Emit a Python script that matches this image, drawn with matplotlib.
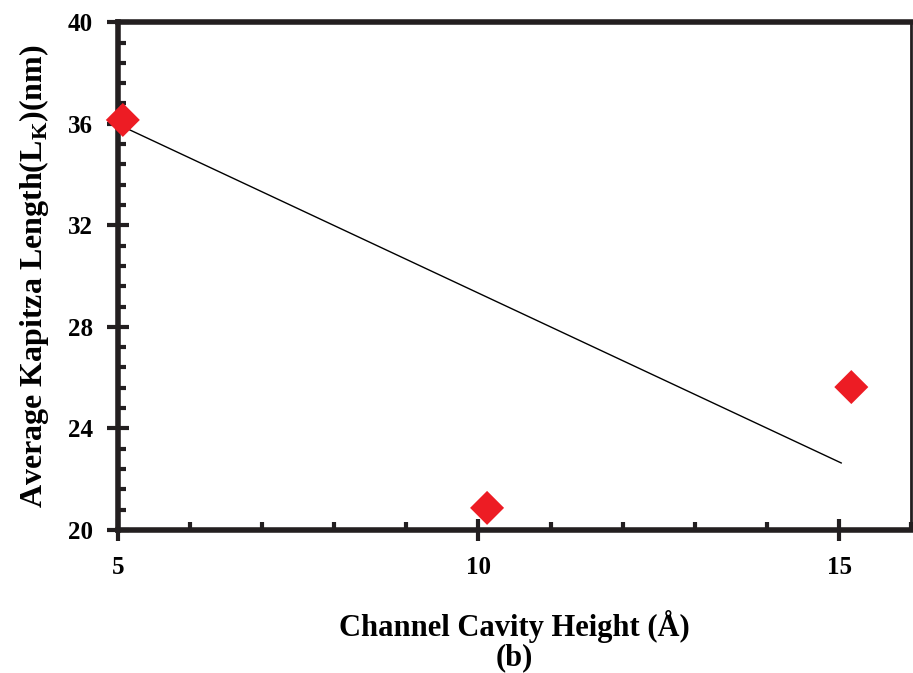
import matplotlib
matplotlib.use("Agg")
import matplotlib.pyplot as plt
from matplotlib.ticker import MultipleLocator

# Kapitza length vs. channel cavity height
cavity_height = [5.07, 10.12, 15.17]
kapitza_length = [36.15, 20.87, 25.63]

# straight trend line drawn across the data range
trend_x = [5.0, 15.03]
trend_y = [35.98, 22.64]

plt.rcParams['font.family'] = ['Liberation Serif', 'DejaVu Serif']
plt.rcParams['font.weight'] = 'bold'

fig = plt.figure(figsize=(9.13, 6.73), dpi=100)
ax = fig.add_axes([0.129, 0.2125, 0.869, 0.7545])

ax.plot(trend_x, trend_y, color='black', lw=1.0, zorder=2)
ax.scatter(cavity_height, kapitza_length, marker='D', s=300, color='#ed1c24',
           edgecolors='none', zorder=3, clip_on=False)

ax.set_xlim(5, 16)
ax.set_ylim(20, 40)
ax.xaxis.set_major_locator(MultipleLocator(5))
ax.xaxis.set_minor_locator(MultipleLocator(1))
ax.yaxis.set_major_locator(MultipleLocator(4))
ax.yaxis.set_minor_locator(MultipleLocator(0.8))

ax.tick_params(which='major', direction='inout', length=16, width=3,
               labelsize=18, color='#231f20')
ax.tick_params(axis='x', which='major', pad=11)
ax.tick_params(axis='y', which='major', pad=10)
ax.tick_params(which='minor', direction='in', length=6, width=3,
               color='#231f20')
ax.tick_params(axis='y', which='both', right=False)
ax.tick_params(axis='x', which='both', top=False)

for side in ['left', 'bottom', 'top']:
    ax.spines[side].set_linewidth(4)
    ax.spines[side].set_color('#231f20')
ax.spines['right'].set_linewidth(2)
ax.spines['right'].set_color('#231f20')

for lbl in ax.get_xticklabels() + ax.get_yticklabels():
    lbl.set_fontweight('bold')

ax.set_ylabel('Average Kapitza Length(L$_\\mathregular{K}$)(nm)',
              fontsize=23, fontweight='bold', labelpad=12)
ax.set_xlabel('Channel Cavity Height (Å)\n(b)', fontsize=22,
              fontweight='bold', labelpad=22, linespacing=1.0)

fig.savefig('out.png', dpi=100)
